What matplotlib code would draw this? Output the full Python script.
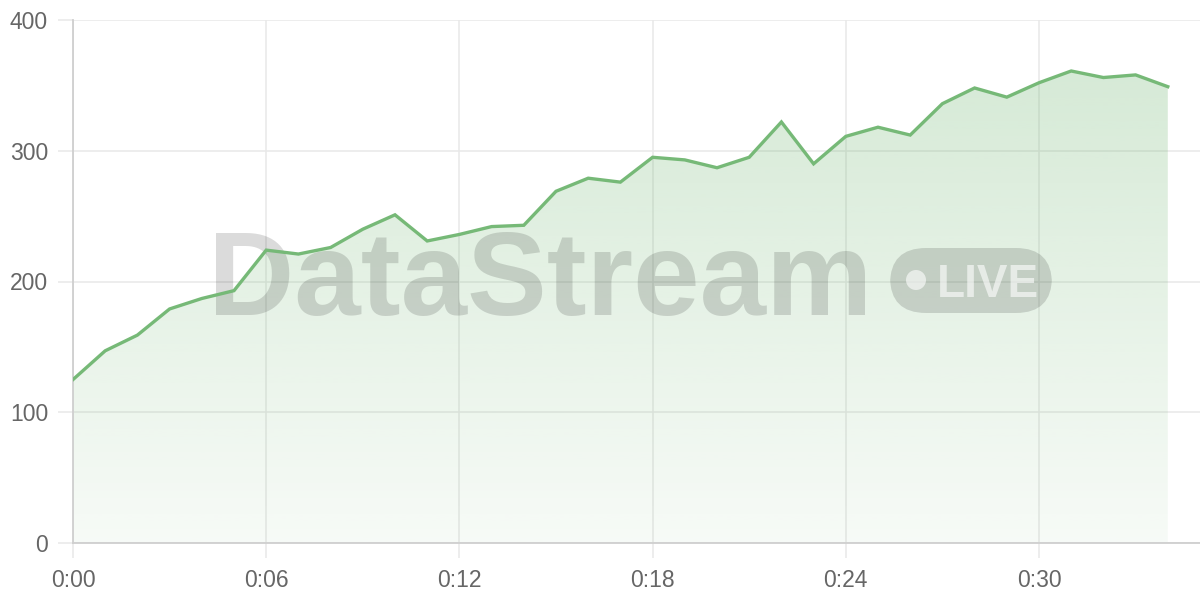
import numpy as np
import matplotlib
matplotlib.use("Agg")
import matplotlib.pyplot as plt
from matplotlib.patches import FancyBboxPatch, Ellipse, Polygon

minutes = list(range(35))
values = [125, 147, 159, 179, 187, 193, 224, 221, 226, 240, 251, 231, 236, 242, 243,
          269, 279, 276, 295, 293, 287, 295, 322, 290, 311, 318, 312, 336, 348, 341,
          352, 361, 356, 358, 349]
xtick_pos = [0, 6, 12, 18, 24, 30]
xtick_labels = ["0:00", "0:06", "0:12", "0:18", "0:24", "0:30"]
ytick_pos = [0, 100, 200, 300, 400]

LINE = "#76b977"
GRID = "#e8e8e8"
AXIS = "#cfcfcf"
TXT = "#666666"

plt.rcParams['font.family'] = ['Liberation Sans', 'DejaVu Sans']

fig = plt.figure(figsize=(12, 6), dpi=100)
ax = fig.add_axes([73/1200, 57/600, 1127/1200, 523/600])
ax.set_xlim(0, 35)
ax.set_ylim(0, 400)

# gradient fill
x = np.array(minutes, dtype=float)
y = np.array(values, dtype=float)
verts = [(x[0], 0)] + list(zip(x, y)) + [(x[-1], 0)]
poly = Polygon(verts, closed=True, facecolor='none', edgecolor='none')
ax.add_patch(poly)
grad = np.linspace(0.06, 0.30, 256).reshape(-1, 1)
rgba = np.zeros((256, 1, 4))
rgba[..., 0] = 0x76/255
rgba[..., 1] = 0xb9/255
rgba[..., 2] = 0x77/255
rgba[..., 3] = grad
im = ax.imshow(rgba, extent=[x[0], x[-1], 0, max(values)], origin='lower',
               aspect='auto', zorder=1, interpolation='bilinear')
im.set_clip_path(poly)

ax.plot(x, y, color=LINE, lw=2.4, zorder=5, solid_joinstyle='miter')

ax.set_xticks(xtick_pos)
ax.set_xticklabels(xtick_labels)
ax.set_yticks(ytick_pos)
ax.grid(True, color=GRID, lw=1.1, zorder=0)
ax.set_axisbelow(True)
for s in ['top', 'right']:
    ax.spines[s].set_visible(False)
for s in ['left', 'bottom']:
    ax.spines[s].set_color(AXIS)
    ax.spines[s].set_linewidth(1.3)
ax.tick_params(axis='both', length=11, color=GRID, width=1.1, labelcolor=TXT, labelsize=16.5)
ax.tick_params(axis='y', pad=7)
ax.tick_params(axis='x', pad=8)

# watermark (below the line, above the fill)
wm = "#000000"
ft = fig.transFigure
ax.text(208/1200, (600-315)/600, "DataStream", fontsize=86, fontweight='bold',
        family=['Liberation Sans', 'DejaVu Sans'], color=wm, alpha=0.14,
        ha='left', va='baseline', zorder=3, transform=ft, clip_on=False)
pill = FancyBboxPatch((890/1200, (600-313)/600), 162/1200, 65/600,
                      boxstyle="round,pad=0,rounding_size=0.03",
                      transform=ft, facecolor=wm, alpha=0.14,
                      edgecolor='none', zorder=3, mutation_aspect=2.0, clip_on=False)
ax.add_artist(pill)
ax.text(937/1200, (600-297)/600, "LIVE", fontsize=33, fontweight='bold',
        family=['Liberation Sans', 'DejaVu Sans'], color='white', alpha=0.6,
        ha='left', va='baseline', zorder=4, transform=ft, clip_on=False)
dot = Ellipse((916/1200, (600-280)/600), 20/1200, 20/600, transform=ft,
              facecolor='white', alpha=0.6, edgecolor='none', zorder=4, clip_on=False)
ax.add_artist(dot)

fig.savefig("out.png", dpi=100)
